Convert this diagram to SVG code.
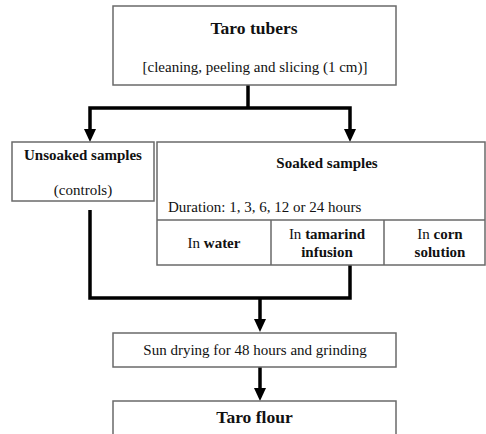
<svg xmlns="http://www.w3.org/2000/svg" width="486" height="434" viewBox="0 0 486 434">
<style>
.box{fill:#fff;stroke:#6a6a6a;stroke-width:1.5}
.div{fill:none;stroke:#6a6a6a;stroke-width:1.5}
.con{fill:none;stroke:#000;stroke-width:3.5}
text{font-family:'Liberation Serif','Times New Roman',serif;fill:#111;text-anchor:middle;font-size:15px}
.b{font-weight:bold}
.t{font-size:17.5px;font-weight:bold}
.s{text-anchor:start}
</style>
<defs>
<marker id="ah" markerUnits="userSpaceOnUse" markerWidth="13" markerHeight="12" refX="1" refY="6" orient="auto">
<path d="M0,0 L13,6 L0,12 z" fill="#000"/>
</marker>
</defs>
<rect width="486" height="434" fill="#fff"/>
<g id="connectors">
<path class="con" d="M248,85 V108"/>
<path class="con" d="M248,108 H90 V130" marker-end="url(#ah)"/>
<path class="con" d="M248,108 H350 V130" marker-end="url(#ah)"/>
<path class="con" d="M90,210 V298 H350 V265"/>
<path class="con" d="M260,298 V320" marker-end="url(#ah)"/>
<path class="con" d="M260,367 V389" marker-end="url(#ah)"/>
</g>
<g id="taro-tubers">
<rect class="box" x="113" y="6" width="283" height="79"/>
<text class="t" x="254" y="34">Taro tubers</text>
<text x="255" y="72">[cleaning, peeling and slicing (1 cm)]</text>
</g>
<g id="unsoaked">
<rect class="box" x="12" y="142" width="142" height="59"/>
<text class="b" x="83" y="160">Unsoaked samples</text>
<text x="83" y="195">(controls)</text>
</g>
<g id="soaked">
<rect class="box" x="157" y="142" width="328" height="123"/>
<path class="div" d="M157,220 H485 M271,220 V265 M384,220 V265"/>
<text class="b" x="327" y="168">Soaked samples</text>
<text class="s" x="168" y="212">Duration: 1, 3, 6, 12 or 24 hours</text>
<text x="214" y="248">In <tspan class="b">water</tspan></text>
<text x="327" y="239">In <tspan class="b">tamarind</tspan></text>
<text class="b" x="327" y="257">infusion</text>
<text x="440" y="239">In <tspan class="b">corn</tspan></text>
<text class="b" x="440" y="257">solution</text>
</g>
<g id="sun-drying">
<rect class="box" x="113" y="333" width="283" height="34"/>
<text x="255" y="355">Sun drying for 48 hours and grinding</text>
</g>
<g id="taro-flour">
<rect class="box" x="113" y="401" width="283" height="40"/>
<text class="t" x="254.5" y="423">Taro flour</text>
</g>
</svg>
